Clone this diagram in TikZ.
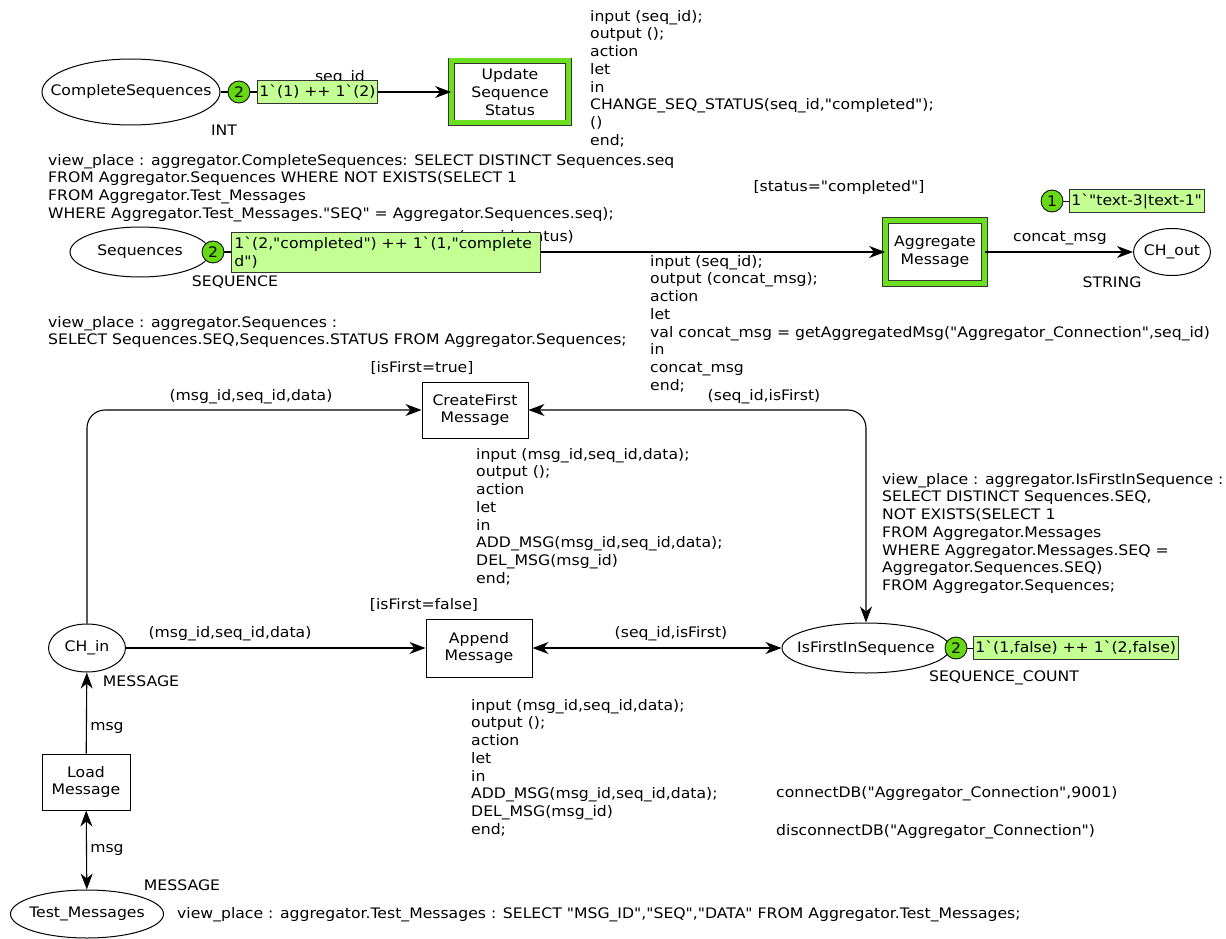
\documentclass[tikz,border=0pt]{standalone}
\usepackage{fontspec}
\newfontfamily\dvs{DejaVu Sans}[FakeStretch=1.08]
\usetikzlibrary{arrows.meta,shapes.geometric}
\definecolor{tokgreen}{HTML}{66D814}
\definecolor{markgreen}{HTML}{C4FF94}
\definecolor{borderg}{HTML}{6CE01E}
\begin{document}
\begin{tikzpicture}[x=1pt,y=-1pt,
  font=\dvs\fontsize{14.5}{17.7}\selectfont,
  place/.style={ellipse,draw,line width=1pt,inner sep=0pt},
  trans/.style={rectangle,draw,line width=1pt,inner sep=0pt,align=center},
  gtrans/.style={rectangle,draw=black!80,line width=0.8pt,double=borderg,double distance=5pt,inner sep=0pt,align=center},
  token/.style={circle,draw,line width=0.8pt,fill=tokgreen,minimum size=22pt,inner sep=0pt},
  markbox/.style={rectangle,draw=black!80,line width=0.8pt,fill=markgreen,inner sep=2pt,anchor=west,minimum height=23pt},
  lab/.style={inner sep=0pt},
  code/.style={align=left,anchor=north west,inner sep=0pt},
  arc/.style={line width=1.1pt,-{Stealth[length=16pt,width=12pt,inset=5pt]}},
  arcb/.style={line width=1.1pt,{Stealth[length=16pt,width=12pt,inset=5pt]}-{Stealth[length=16pt,width=12pt,inset=5pt]}}
]
\useasboundingbox (0,0) rectangle (1226,939);

% places
\node[place,minimum width=178pt,minimum height=66pt,label={[lab]center:CompleteSequences}] (cs) at (131,92) {};
\node[place,minimum width=140pt,minimum height=50pt,label={[lab]center:Sequences}] (seq) at (140,252) {};
\node[place,minimum width=77pt,minimum height=47pt,label={[lab]center:CH\_out}] (chout) at (1172,252) {};
\node[place,minimum width=77pt,minimum height=48pt,label={[lab]center:CH\_in}] (chin) at (87,648) {};
\node[place,minimum width=168pt,minimum height=50pt,label={[lab]center:IsFirstInSequence}] (ifs) at (866,648) {};
\node[place,minimum width=153pt,minimum height=48pt,label={[lab]center:Test\_Messages}] (tm) at (87,914) {};

% transitions
\node[gtrans,minimum width=117pt,minimum height=62pt] (ust) at (510,92) {Update\\Sequence\\Status};
\node[gtrans,minimum width=99pt,minimum height=63pt] (agg) at (935,252) {Aggregate\\Message};
\node[trans,minimum width=106pt,minimum height=56pt] (cf) at (475,410) {CreateFirst\\Message};
\node[trans,minimum width=106pt,minimum height=58pt] (app) at (479,648) {Append\\Message};
\node[trans,minimum width=88pt,minimum height=56pt] (load) at (86,782) {Load\\Message};

% arcs
\draw[arc] (cs) -- (ust);
\node[lab] (l1) at (340,78) {seq\_id};
\draw[arc] (seq) -- (agg);
\node[lab,anchor=east] (l2) at (574,238) {(seq\_id,status)};
\draw[arc] (agg) -- (chout);
\node[lab] (l3) at (1060,238) {concat\_msg};
\draw[arc,rounded corners=18pt] (chin.north) |- (cf.west);
\node[lab] (l4) at (251,397) {(msg\_id,seq\_id,data)};
\draw[arcb,rounded corners=18pt] (ifs.north) |- (cf.east);
\node[lab] (l5) at (764,397) {(seq\_id,isFirst)};
\draw[arc] (chin) -- (app);
\node[lab] (l6) at (230,634) {(msg\_id,seq\_id,data)};
\draw[arcb] (app) -- (ifs);
\node[lab] (l7) at (671,634) {(seq\_id,isFirst)};
\draw[arc] (load) -- (chin);
\node[lab] (l8) at (107,728) {msg};
\draw[arcb] (load) -- (tm);
\node[lab] (l9) at (107,850) {msg};

% tokens and markings
\node[token] (cst) at (239,92) {2};
\node[markbox] (csm) at (257,92) {1`(1) ++ 1`(2)};
\draw[line width=0.8pt] (cst) -- (csm);
\node[token] (seqt) at (213,252) {2};
\node[rectangle,draw=black!80,line width=0.8pt,fill=markgreen,anchor=north west,minimum width=309pt,minimum height=40pt,text width=303pt,align=left,inner sep=3pt] (seqm) at (231,232) {1`(2,"completed") ++ 1`(1,"complete\\d")};
\node[token] (chot) at (1052,201) {1};
\node[markbox] (chom) at (1069,201) {1`"text-3|text-1"};
\draw[line width=0.8pt] (chot) -- (chom);
\node[token] (ifst) at (956,648) {2};
\node[markbox] (ifsm) at (973,648) {1`(1,false) ++ 1`(2,false)};
\draw[line width=0.8pt] (ifst) -- (ifsm);

% type labels
\node[lab] (ty1) at (224,130) {INT};
\node[lab] (ty2) at (235,282) {SEQUENCE};
\node[lab] (ty3) at (1112,282) {STRING};
\node[lab] (ty4) at (141,681) {MESSAGE};
\node[lab] (ty5) at (1004,678) {SEQUENCE\_COUNT};
\node[lab] (ty6) at (182,885) {MESSAGE};

% guards
\node[lab] (g1) at (839,187) {[status="completed"]};
\node[lab] (g2) at (422,368) {[isFirst=true]};
\node[lab] (g3) at (424,605) {[isFirst=false]};

% code blocks
\node[code] (c1) at (590,10) {input (seq\_id);\\output ();\\action\\let\\in\\CHANGE\_SEQ\_STATUS(seq\_id,"completed");\\()\\end;};
\node[code] (v1) at (48,154) {view\_place : aggregator.CompleteSequences: SELECT DISTINCT Sequences.seq\\FROM Aggregator.Sequences WHERE NOT EXISTS(SELECT 1\\FROM Aggregator.Test\_Messages\\WHERE Aggregator.Test\_Messages."SEQ" = Aggregator.Sequences.seq);};
\node[code] (c2) at (650,255) {input (seq\_id);\\output (concat\_msg);\\action\\let\\val concat\_msg = getAggregatedMsg("Aggregator\_Connection",seq\_id)\\in\\concat\_msg\\end;};
\node[code] (v2) at (48,316) {view\_place : aggregator.Sequences :\\SELECT Sequences.SEQ,Sequences.STATUS FROM Aggregator.Sequences;};
\node[code] (c3) at (476,448) {input (msg\_id,seq\_id,data);\\output ();\\action\\let\\in\\ADD\_MSG(msg\_id,seq\_id,data);\\DEL\_MSG(msg\_id)\\end;};
\node[code] (v3) at (882,473) {view\_place : aggregator.IsFirstInSequence :\\SELECT DISTINCT Sequences.SEQ,\\NOT EXISTS(SELECT 1\\FROM Aggregator.Messages\\WHERE Aggregator.Messages.SEQ =\\Aggregator.Sequences.SEQ)\\FROM Aggregator.Sequences;};
\node[code] (c4) at (471,699) {input (msg\_id,seq\_id,data);\\output ();\\action\\let\\in\\ADD\_MSG(msg\_id,seq\_id,data);\\DEL\_MSG(msg\_id)\\end;};
\node[code] (d1) at (776,786) {connectDB("Aggregator\_Connection",9001)};
\node[code] (d2) at (776,824) {disconnectDB("Aggregator\_Connection")};
\node[code] (v4) at (177,907) {view\_place : aggregator.Test\_Messages : SELECT "MSG\_ID","SEQ","DATA" FROM Aggregator.Test\_Messages;};
\end{tikzpicture}
\end{document}
